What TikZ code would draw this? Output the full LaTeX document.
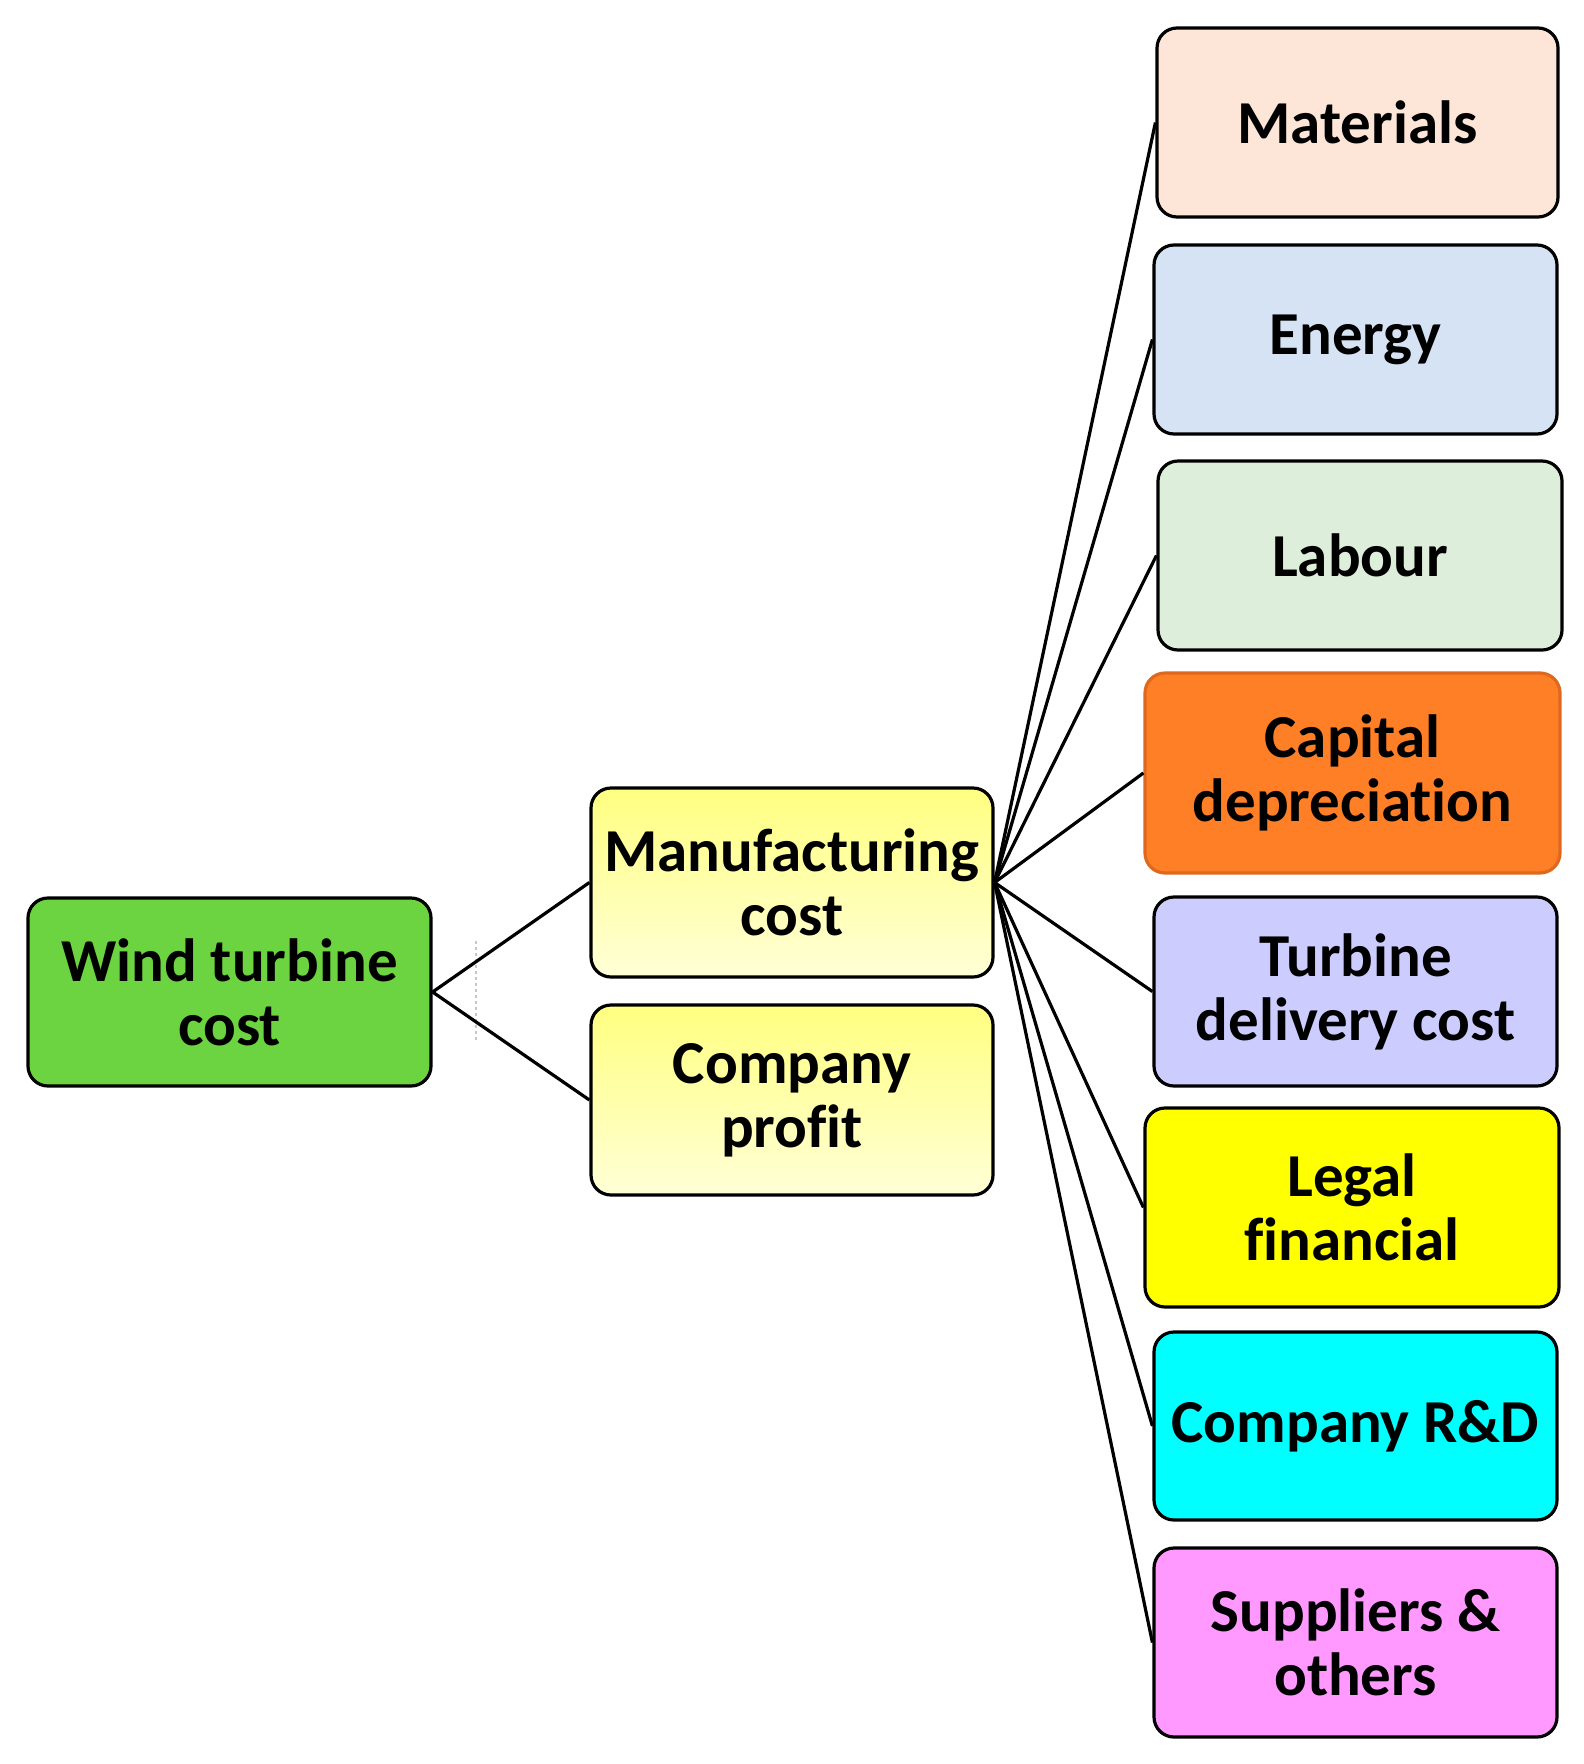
\documentclass[tikz,border=0pt]{standalone}
\usepackage{fontspec}
\setmainfont[Ligatures=NoCommon]{Carlito}
\begin{document}
\begin{tikzpicture}[x=1pt,y=-1pt,
  box/.style={draw=black, line width=3.2pt, rounded corners=20pt, align=center,
    inner sep=0pt, font=\bfseries\fontsize{61}{64}\selectfont},
  conn/.style={draw=black, line width=3.2pt}]
\definecolor{cgreen}{RGB}{108,212,64}
\definecolor{cpeach}{RGB}{253,229,215}
\definecolor{cblue}{RGB}{214,227,244}
\definecolor{clgreen}{RGB}{221,238,218}
\definecolor{corange}{RGB}{255,127,39}
\definecolor{corangeb}{RGB}{222,105,30}
\definecolor{clav}{RGB}{204,204,255}
\definecolor{cyel}{RGB}{255,255,0}
\definecolor{ccyan}{RGB}{0,255,255}
\definecolor{cpink}{RGB}{255,153,255}
\definecolor{ylt}{RGB}{255,255,128}
\definecolor{ylb}{RGB}{255,255,215}
\useasboundingbox[fill=white] (0,0) rectangle (1583,1764);

\node[box, fill=cgreen, minimum width=403pt, minimum height=188pt] (wind) at (229.5,992) {Wind turbine\\cost};
\node[box, top color=ylt, bottom color=ylb, minimum width=402pt, minimum height=189pt] (manu) at (792,882.5) {Manufacturing\\cost};
\node[box, top color=ylt, bottom color=ylb, minimum width=402pt, minimum height=190pt] (profit) at (792,1100) {Company\\profit};

\node[box, fill=cpeach, minimum width=401pt, minimum height=189pt] (mat) at (1357.5,122.5) {Materials};
\node[box, fill=cblue, minimum width=403pt, minimum height=189pt] (energy) at (1355.5,339.5) {Energy};
\node[box, fill=clgreen, minimum width=404pt, minimum height=189pt] (labour) at (1360,555.5) {Labour};
\node[box, fill=corange, draw=corangeb, minimum width=415pt, minimum height=200pt] (capital) at (1352.5,773) {Capital\\depreciation};
\node[box, fill=clav, minimum width=403pt, minimum height=189pt] (turbine) at (1355.5,991.5) {Turbine\\delivery cost};
\node[box, fill=cyel, minimum width=414pt, minimum height=199pt] (legal) at (1352,1207.5) {Legal\\financial};
\node[box, fill=ccyan, minimum width=403pt, minimum height=188pt] (rd) at (1355.5,1426) {Company R\&D};
\node[box, fill=cpink, minimum width=403pt, minimum height=189pt] (supp) at (1355.5,1642.5) {Suppliers \&\\others};

\coordinate (d1) at (476,941);
\coordinate (d2) at (476,1041);
\draw[gray!45, line width=1.2pt, dashed] (d1) -- (d2);

\draw[conn] (wind.east) -- (manu.west);
\draw[conn] (wind.east) -- (profit.west);
\foreach \t in {mat,energy,labour,capital,turbine,legal,rd,supp}
  \draw[conn] (manu.east) -- (\t.west);
\end{tikzpicture}
\end{document}
